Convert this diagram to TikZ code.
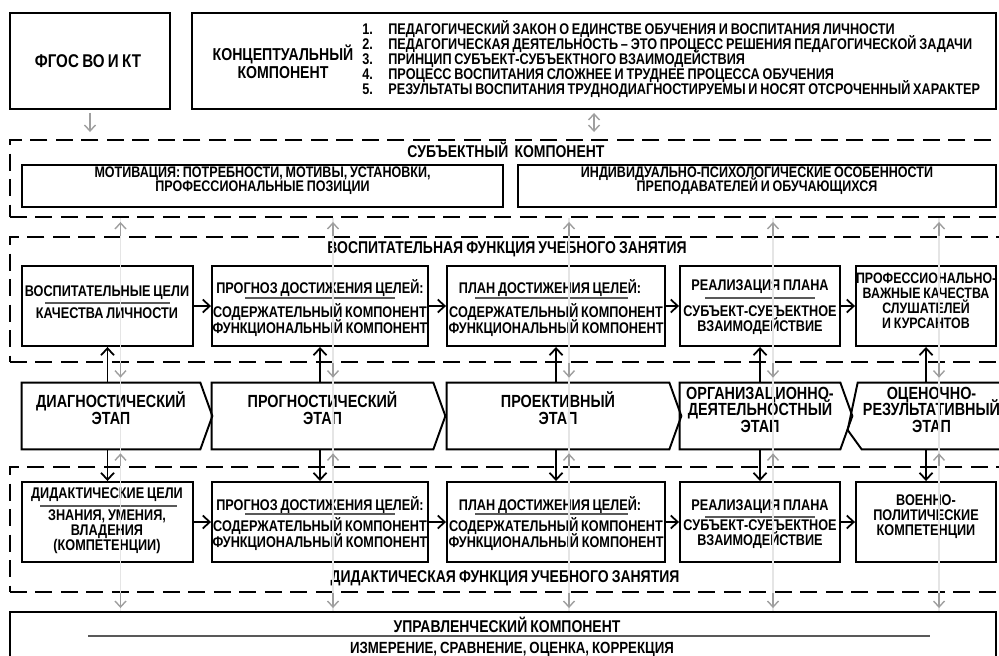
\documentclass[tikz,border=0pt]{standalone}
\usepackage{fontspec}
\setmainfont{Liberation Sans}[FakeStretch=0.82,WordSpace=0.8]
\usetikzlibrary{calc,arrows.meta,fit}

\newcommand{\fntbox}{\bfseries\fontsize{8.8}{8.6}\selectfont\lineskiplimit=-10pt}
\newcommand{\fntprof}{\bfseries\fontsize{8.6}{8.6}\selectfont\lineskiplimit=-10pt}
\newcommand{\fntstage}{\bfseries\fontsize{10}{9.4}\selectfont\lineskiplimit=-10pt}
\newcommand{\fnthead}{\bfseries\fontsize{9.7}{10.2}\selectfont\lineskiplimit=-10pt}
\newcommand{\fntlist}{\bfseries\fontsize{8.8}{8.5}\selectfont\lineskiplimit=-10pt}
\newcommand{\fntmot}{\bfseries\fontsize{8.7}{8.5}\selectfont\lineskiplimit=-10pt}
\newcommand{\fntfgos}{\bfseries\fontsize{10.5}{12}\selectfont}

\tikzset{
  box/.style={draw, line width=1.1pt, inner sep=0pt, align=center},
  dbox/.style={draw, line width=1.1pt, dash pattern=on 0.34cm off 0.17cm, inner sep=0pt},
  stagebox/.style={inner sep=0pt, align=center, font=\fntstage},
  stageline/.style={line width=1.1pt, line join=miter},
  txt/.style={font=\fntbox, align=center, inner sep=0pt},
  head/.style={font=\fnthead, align=center, inner sep=0pt},
  sepline/.style={black!65, line width=0.6pt},
  arr/.style={->, line width=1pt},
  garr/.style={-{Straight Barb[length=1.2mm,width=2.2mm]}, gray!75, line width=0.8pt, shorten >=0.08cm},
  faint/.style={black!10, line width=0.7pt}
}

\begin{document}
\begin{tikzpicture}[x=0.02cm, y=-0.02cm, >={Straight Barb[length=1.4mm,width=2.6mm]}]
\useasboundingbox (0,0) rectangle (999,655);
\clip (0,0) rectangle (999,655);

% top row
\node[box, fit={(10,13) (170,109)}] (fgos) {};
\node[font=\fntfgos, inner sep=0pt] (fgostext) at (88,61) {ФГОС ВО И КТ};
\node[box, fit={(192,13) (996,109)}] (concept) {};
\node[head, font=\bfseries\fontsize{9.8}{10.2}\selectfont] (concepttitle) at (283,62) {КОНЦЕПТУАЛЬНЫЙ\\КОМПОНЕНТ};
\node[font=\fntlist, align=left, anchor=west, inner sep=0pt] (conceptlist) at (362,59) {%
  \makebox[0.52cm][l]{1.}ПЕДАГОГИЧЕСКИЙ ЗАКОН О ЕДИНСТВЕ ОБУЧЕНИЯ И ВОСПИТАНИЯ ЛИЧНОСТИ\\
  \makebox[0.52cm][l]{2.}ПЕДАГОГИЧЕСКАЯ ДЕЯТЕЛЬНОСТЬ – ЭТО ПРОЦЕСС РЕШЕНИЯ ПЕДАГОГИЧЕСКОЙ ЗАДАЧИ\\
  \makebox[0.52cm][l]{3.}ПРИНЦИП СУБЪЕКТ-СУБЪЕКТНОГО ВЗАИМОДЕЙСТВИЯ\\
  \makebox[0.52cm][l]{4.}ПРОЦЕСС ВОСПИТАНИЯ СЛОЖНЕЕ И ТРУДНЕЕ ПРОЦЕССА ОБУЧЕНИЯ\\
  \makebox[0.52cm][l]{5.}РЕЗУЛЬТАТЫ ВОСПИТАНИЯ ТРУДНОДИАГНОСТИРУЕМЫ И НОСЯТ ОТСРОЧЕННЫЙ ХАРАКТЕР};

% subject component
\node[dbox, fit={(10,140) (1010,217)}] (subj) {};
\node[head] (subjtitle) at (506,150) {СУБЪЕКТНЫЙ\ \ КОМПОНЕНТ};
\node[box, fit={(22,165) (503,207)}, font=\fntmot] (motiv) {МОТИВАЦИЯ: ПОТРЕБНОСТИ, МОТИВЫ, УСТАНОВКИ,\\ПРОФЕССИОНАЛЬНЫЕ ПОЗИЦИИ};
\node[box, fit={(518,165) (996,207)}, font=\fntmot] (indiv) {ИНДИВИДУАЛЬНО-ПСИХОЛОГИЧЕСКИЕ ОСОБЕННОСТИ\\ПРЕПОДАВАТЕЛЕЙ И ОБУЧАЮЩИХСЯ};

% upbringing function
\node[dbox, fit={(10,237) (1010,362)}] (vosp) {};
\node[head] (vosptitle) at (507,249) {ВОСПИТАТЕЛЬНАЯ ФУНКЦИЯ УЧЕБНОГО ЗАНЯТИЯ};
\node[box, fit={(22,266) (193,346)}] (vA) {};
\node[box, fit={(212,266) (428,346)}] (vB) {};
\node[box, fit={(447,266) (665,346)}] (vC) {};
\node[box, fit={(680,266) (840,346)}] (vD) {};
\node[box, fit={(856,266) (996,346)}, font=\fntprof] (vE) {\mbox{ПРОФЕССИОНАЛЬНО-}\\ВАЖНЫЕ КАЧЕСТВА\\СЛУШАТЕЛЕЙ\\И КУРСАНТОВ};
\node[txt] (vA1) at (107,293) {ВОСПИТАТЕЛЬНЫЕ ЦЕЛИ};
\draw[sepline] (45,303) -- (170,303);
\node[txt] (vA2) at (107,313) {КАЧЕСТВА ЛИЧНОСТИ};
\node[txt] (vB1) at (320,288) {ПРОГНОЗ ДОСТИЖЕНИЯ ЦЕЛЕЙ:};
\draw[sepline] (245,298) -- (395,298);
\node[txt] (vB2) at (320,320) {СОДЕРЖАТЕЛЬНЫЙ КОМПОНЕНТ\\ФУНКЦИОНАЛЬНЫЙ КОМПОНЕНТ};
\node[txt] (vC1) at (550,288) {ПЛАН ДОСТИЖЕНИЯ ЦЕЛЕЙ:};
\draw[sepline] (475,298) -- (628,298);
\node[txt] (vC2) at (556,320) {СОДЕРЖАТЕЛЬНЫЙ КОМПОНЕНТ\\ФУНКЦИОНАЛЬНЫЙ КОМПОНЕНТ};
\node[txt] (vD1) at (760,287) {РЕАЛИЗАЦИЯ ПЛАНА};
\draw[sepline] (705,298) -- (815,298);
\node[txt] (vD2) at (760,320) {СУБЪЕКТ-СУБЪЕКТНОЕ\\ВЗАИМОДЕЙСТВИЕ};

% stages
\node[stagebox, fit={(22,383) (200,449)}] (stA) {ДИАГНОСТИЧЕСКИЙ\\ЭТАП};
\node[stagebox, fit={(212,383) (433,449)}] (stB) {ПРОГНОСТИЧЕСКИЙ\\ЭТАП};
\node[stagebox, fit={(447,383) (669,449)}] (stC) {ПРОЕКТИВНЫЙ\\ЭТАП};
\node[stagebox, fit={(680,383) (840,449)}] (stD) {ОРГАНИЗАЦИОННО-\\ДЕЯТЕЛЬНОСТНЫЙ\\ЭТАП};
\node[stagebox, fit={(858,383) (1005,449)}] (stE) {ОЦЕНОЧНО-\\РЕЗУЛЬТАТИВНЫЙ\\ЭТАП};
\foreach \s in {A,B,C,D}
  \draw[stageline] (st\s.north west) -- (st\s.north east) -- ($(st\s.east)+(12,0)$) -- (st\s.south east) -- (st\s.south west) -- cycle;
\draw[stageline] (stE.north west) -- (stE.north east) -- (stE.south east) -- ($(stE.south west)+(4,0)$) -- ($(stE.west)+(-10,14)$) -- cycle;

% didactic function
\node[dbox, fit={(10,467) (1010,592)}] (didact) {};
\node[head] (didtitle) at (505,578) {ДИДАКТИЧЕСКАЯ ФУНКЦИЯ УЧЕБНОГО ЗАНЯТИЯ};
\node[box, fit={(22,482) (193,562)}] (dA) {};
\node[box, fit={(212,482) (428,562)}] (dB) {};
\node[box, fit={(447,482) (665,562)}] (dC) {};
\node[box, fit={(680,482) (840,562)}] (dD) {};
\node[box, fit={(856,482) (996,562)}, font=\fntbox] (dE) {ВОЕННО-\\ПОЛИТИЧЕСКИЕ\\КОМПЕТЕНЦИИ};
\node[txt] (dA1) at (107,495) {ДИДАКТИЧЕСКИЕ ЦЕЛИ};
\draw[sepline] (40,506) -- (177,506);
\node[txt] (dA2) at (107,532) {ЗНАНИЯ, УМЕНИЯ,\\ВЛАДЕНИЯ\\(КОМПЕТЕНЦИИ)};
\node[txt] (dB1) at (320,505) {ПРОГНОЗ ДОСТИЖЕНИЯ ЦЕЛЕЙ:};
\draw[sepline] (245,514) -- (395,514);
\node[txt] (dB2) at (320,534) {СОДЕРЖАТЕЛЬНЫЙ КОМПОНЕНТ\\ФУНКЦИОНАЛЬНЫЙ КОМПОНЕНТ};
\node[txt] (dC1) at (550,505) {ПЛАН ДОСТИЖЕНИЯ ЦЕЛЕЙ:};
\draw[sepline] (475,514) -- (628,514);
\node[txt] (dC2) at (556,534) {СОДЕРЖАТЕЛЬНЫЙ КОМПОНЕНТ\\ФУНКЦИОНАЛЬНЫЙ КОМПОНЕНТ};
\node[txt] (dD1) at (760,507) {РЕАЛИЗАЦИЯ ПЛАНА};
\draw[sepline] (705,517) -- (815,517);
\node[txt] (dD2) at (760,534) {СУБЪЕКТ-СУБЪЕКТНОЕ\\ВЗАИМОДЕЙСТВИЕ};

% management component
\node[box, fit={(10,612) (996,700)}] (upr) {};
\node[head] (uprtitle) at (507,625) {УПРАВЛЕНЧЕСКИЙ КОМПОНЕНТ};
\draw[sepline] (88,636) -- (930,636);
\node[head, font=\bfseries\fontsize{9.2}{10}\selectfont] (uprtext) at (512,649) {ИЗМЕРЕНИЕ, СРАВНЕНИЕ, ОЦЕНКА, КОРРЕКЦИЯ};

% arrows
\draw[garr, shorten <=0.06cm, shorten >=0.14cm] (fgos.south) -- (fgos.south |- subj.north);
\draw[garr, {Straight Barb[length=1.2mm,width=2.2mm]}-{Straight Barb[length=1.2mm,width=2.2mm]}, shorten <=0.06cm, shorten >=0.14cm] (concept.south) -- (concept.south |- subj.north);
\foreach \a/\b in {A/B,B/C,C/D,D/E} {
  \draw[arr] (v\a) -- (v\b);
  \draw[arr] (d\a) -- (d\b);
}
\foreach \b in {A,B,C,D,E} {
  \draw[arr] (v\b.south |- st\b.north) -- (v\b.south);
  \draw[arr] (d\b.north |- st\b.south) -- (d\b.north);
  \coordinate (g\b) at ($(v\b.south)+(13,0)$);
  \draw[faint] (g\b |- subj.south) -- (g\b |- upr.north);
  \draw[garr] (g\b |- vosp.north) -- (g\b |- subj.south);
  \draw[garr, shorten >=0.1cm] (g\b |- vosp.south) -- (g\b |- st\b.north);
  \draw[garr] (g\b |- didact.north) -- (g\b |- st\b.south);
  \draw[garr, shorten >=0.06cm] (g\b |- didact.south) -- (g\b |- upr.north);
}
\end{tikzpicture}
\end{document}
